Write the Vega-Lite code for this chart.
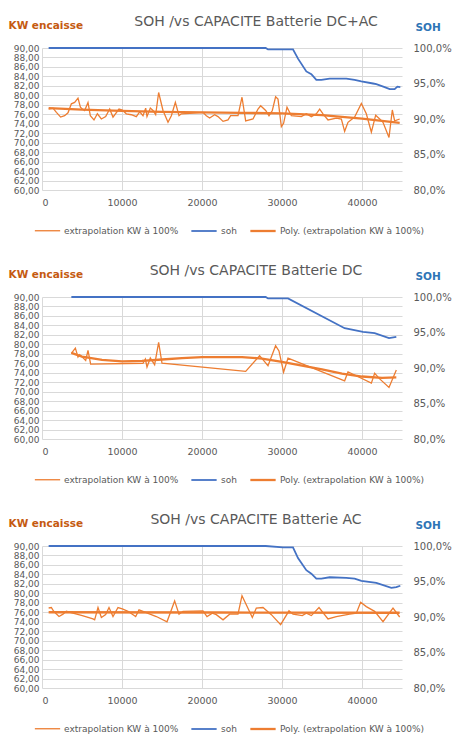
{
  "$schema": "https://vega.github.io/schema/vega-lite/v6.json",
  "padding": {"left": 8, "top": 15, "right": 0, "bottom": 0},
  "background": "white",
  "datasets": {
    "dcac": [
      {"s": "extrapolation KW à 100%", "n": 1, "km": 830, "v": 77.1},
      {"s": "extrapolation KW à 100%", "n": 2, "km": 1375, "v": 77.3},
      {"s": "extrapolation KW à 100%", "n": 3, "km": 1800, "v": 76.4},
      {"s": "extrapolation KW à 100%", "n": 4, "km": 2330, "v": 75.4},
      {"s": "extrapolation KW à 100%", "n": 5, "km": 2830, "v": 75.7},
      {"s": "extrapolation KW à 100%", "n": 6, "km": 3250, "v": 76.3},
      {"s": "extrapolation KW à 100%", "n": 7, "km": 3670, "v": 78.2},
      {"s": "extrapolation KW à 100%", "n": 8, "km": 4080, "v": 78.5},
      {"s": "extrapolation KW à 100%", "n": 9, "km": 4500, "v": 79.4},
      {"s": "extrapolation KW à 100%", "n": 10, "km": 4800, "v": 77.5},
      {"s": "extrapolation KW à 100%", "n": 11, "km": 5040, "v": 77.1},
      {"s": "extrapolation KW à 100%", "n": 12, "km": 5330, "v": 76.8},
      {"s": "extrapolation KW à 100%", "n": 13, "km": 5750, "v": 78.5},
      {"s": "extrapolation KW à 100%", "n": 14, "km": 6040, "v": 75.7},
      {"s": "extrapolation KW à 100%", "n": 15, "km": 6500, "v": 74.8},
      {"s": "extrapolation KW à 100%", "n": 16, "km": 6920, "v": 76.1},
      {"s": "extrapolation KW à 100%", "n": 17, "km": 7420, "v": 75.0},
      {"s": "extrapolation KW à 100%", "n": 18, "km": 7960, "v": 75.5},
      {"s": "extrapolation KW à 100%", "n": 19, "km": 8460, "v": 77.1},
      {"s": "extrapolation KW à 100%", "n": 20, "km": 8875, "v": 75.4},
      {"s": "extrapolation KW à 100%", "n": 21, "km": 9625, "v": 77.1},
      {"s": "extrapolation KW à 100%", "n": 22, "km": 10040, "v": 76.9},
      {"s": "extrapolation KW à 100%", "n": 23, "km": 10540, "v": 76.1},
      {"s": "extrapolation KW à 100%", "n": 24, "km": 11170, "v": 75.9},
      {"s": "extrapolation KW à 100%", "n": 25, "km": 11790, "v": 75.5},
      {"s": "extrapolation KW à 100%", "n": 26, "km": 12210, "v": 76.5},
      {"s": "extrapolation KW à 100%", "n": 27, "km": 12625, "v": 75.7},
      {"s": "extrapolation KW à 100%", "n": 28, "km": 12960, "v": 77.3},
      {"s": "extrapolation KW à 100%", "n": 29, "km": 13125, "v": 75.5},
      {"s": "extrapolation KW à 100%", "n": 30, "km": 13540, "v": 77.3},
      {"s": "extrapolation KW à 100%", "n": 31, "km": 13875, "v": 76.8},
      {"s": "extrapolation KW à 100%", "n": 32, "km": 14210, "v": 75.9},
      {"s": "extrapolation KW à 100%", "n": 33, "km": 14580, "v": 80.6},
      {"s": "extrapolation KW à 100%", "n": 34, "km": 15125, "v": 76.8},
      {"s": "extrapolation KW à 100%", "n": 35, "km": 15750, "v": 74.3},
      {"s": "extrapolation KW à 100%", "n": 36, "km": 16170, "v": 75.7},
      {"s": "extrapolation KW à 100%", "n": 37, "km": 16670, "v": 78.5},
      {"s": "extrapolation KW à 100%", "n": 38, "km": 17125, "v": 75.7},
      {"s": "extrapolation KW à 100%", "n": 39, "km": 17420, "v": 76.1},
      {"s": "extrapolation KW à 100%", "n": 40, "km": 18460, "v": 76.2},
      {"s": "extrapolation KW à 100%", "n": 41, "km": 20125, "v": 76.4},
      {"s": "extrapolation KW à 100%", "n": 42, "km": 20540, "v": 75.7},
      {"s": "extrapolation KW à 100%", "n": 43, "km": 20960, "v": 75.2},
      {"s": "extrapolation KW à 100%", "n": 44, "km": 21580, "v": 75.9},
      {"s": "extrapolation KW à 100%", "n": 45, "km": 22000, "v": 75.5},
      {"s": "extrapolation KW à 100%", "n": 46, "km": 22630, "v": 74.5},
      {"s": "extrapolation KW à 100%", "n": 47, "km": 23250, "v": 74.8},
      {"s": "extrapolation KW à 100%", "n": 48, "km": 23580, "v": 75.7},
      {"s": "extrapolation KW à 100%", "n": 49, "km": 24500, "v": 75.7},
      {"s": "extrapolation KW à 100%", "n": 50, "km": 25000, "v": 79.6},
      {"s": "extrapolation KW à 100%", "n": 51, "km": 25460, "v": 74.6},
      {"s": "extrapolation KW à 100%", "n": 52, "km": 26375, "v": 75.0},
      {"s": "extrapolation KW à 100%", "n": 53, "km": 27000, "v": 77.1},
      {"s": "extrapolation KW à 100%", "n": 54, "km": 27330, "v": 77.8},
      {"s": "extrapolation KW à 100%", "n": 55, "km": 27960, "v": 76.8},
      {"s": "extrapolation KW à 100%", "n": 56, "km": 28375, "v": 75.7},
      {"s": "extrapolation KW à 100%", "n": 57, "km": 28790, "v": 76.8},
      {"s": "extrapolation KW à 100%", "n": 58, "km": 29200, "v": 79.7},
      {"s": "extrapolation KW à 100%", "n": 59, "km": 29500, "v": 79.2},
      {"s": "extrapolation KW à 100%", "n": 60, "km": 29920, "v": 73.4},
      {"s": "extrapolation KW à 100%", "n": 61, "km": 30200, "v": 74.1},
      {"s": "extrapolation KW à 100%", "n": 62, "km": 30625, "v": 77.5},
      {"s": "extrapolation KW à 100%", "n": 63, "km": 31170, "v": 75.7},
      {"s": "extrapolation KW à 100%", "n": 64, "km": 32420, "v": 75.5},
      {"s": "extrapolation KW à 100%", "n": 65, "km": 33040, "v": 76.1},
      {"s": "extrapolation KW à 100%", "n": 66, "km": 33670, "v": 75.5},
      {"s": "extrapolation KW à 100%", "n": 67, "km": 34290, "v": 76.1},
      {"s": "extrapolation KW à 100%", "n": 68, "km": 34710, "v": 77.1},
      {"s": "extrapolation KW à 100%", "n": 69, "km": 35125, "v": 76.1},
      {"s": "extrapolation KW à 100%", "n": 70, "km": 35750, "v": 74.8},
      {"s": "extrapolation KW à 100%", "n": 71, "km": 36790, "v": 75.2},
      {"s": "extrapolation KW à 100%", "n": 72, "km": 37420, "v": 75.0},
      {"s": "extrapolation KW à 100%", "n": 73, "km": 37830, "v": 72.4},
      {"s": "extrapolation KW à 100%", "n": 74, "km": 38250, "v": 74.3},
      {"s": "extrapolation KW à 100%", "n": 75, "km": 39080, "v": 75.4},
      {"s": "extrapolation KW à 100%", "n": 76, "km": 39920, "v": 78.3},
      {"s": "extrapolation KW à 100%", "n": 77, "km": 40540, "v": 76.1},
      {"s": "extrapolation KW à 100%", "n": 78, "km": 41170, "v": 72.2},
      {"s": "extrapolation KW à 100%", "n": 79, "km": 41710, "v": 75.8},
      {"s": "extrapolation KW à 100%", "n": 80, "km": 42210, "v": 75.0},
      {"s": "extrapolation KW à 100%", "n": 81, "km": 42625, "v": 74.3},
      {"s": "extrapolation KW à 100%", "n": 82, "km": 43375, "v": 71.1},
      {"s": "extrapolation KW à 100%", "n": 83, "km": 43790, "v": 76.9},
      {"s": "extrapolation KW à 100%", "n": 84, "km": 44080, "v": 74.6},
      {"s": "extrapolation KW à 100%", "n": 85, "km": 44710, "v": 75.0},
      {"s": "Poly. (extrapolation KW à 100%)", "n": 1, "km": 830, "v": 77.3},
      {"s": "Poly. (extrapolation KW à 100%)", "n": 2, "km": 5000, "v": 77.0},
      {"s": "Poly. (extrapolation KW à 100%)", "n": 3, "km": 10000, "v": 76.7},
      {"s": "Poly. (extrapolation KW à 100%)", "n": 4, "km": 15000, "v": 76.5},
      {"s": "Poly. (extrapolation KW à 100%)", "n": 5, "km": 20000, "v": 76.4},
      {"s": "Poly. (extrapolation KW à 100%)", "n": 6, "km": 25000, "v": 76.3},
      {"s": "Poly. (extrapolation KW à 100%)", "n": 7, "km": 30000, "v": 76.2},
      {"s": "Poly. (extrapolation KW à 100%)", "n": 8, "km": 35000, "v": 75.8},
      {"s": "Poly. (extrapolation KW à 100%)", "n": 9, "km": 40000, "v": 75.1},
      {"s": "Poly. (extrapolation KW à 100%)", "n": 10, "km": 44710, "v": 74.2},
      {"s": "soh", "n": 1, "km": 830, "v": 1.0},
      {"s": "soh", "n": 2, "km": 27960, "v": 1.0},
      {"s": "soh", "n": 3, "km": 28250, "v": 0.998},
      {"s": "soh", "n": 4, "km": 31375, "v": 0.998},
      {"s": "soh", "n": 5, "km": 32000, "v": 0.985},
      {"s": "soh", "n": 6, "km": 33040, "v": 0.967},
      {"s": "soh", "n": 7, "km": 33670, "v": 0.963},
      {"s": "soh", "n": 8, "km": 34290, "v": 0.955},
      {"s": "soh", "n": 9, "km": 34920, "v": 0.955},
      {"s": "soh", "n": 10, "km": 35960, "v": 0.957},
      {"s": "soh", "n": 11, "km": 38040, "v": 0.957},
      {"s": "soh", "n": 12, "km": 39080, "v": 0.955},
      {"s": "soh", "n": 13, "km": 39920, "v": 0.953},
      {"s": "soh", "n": 14, "km": 41380, "v": 0.95},
      {"s": "soh", "n": 15, "km": 41790, "v": 0.949},
      {"s": "soh", "n": 16, "km": 42830, "v": 0.945},
      {"s": "soh", "n": 17, "km": 43460, "v": 0.942},
      {"s": "soh", "n": 18, "km": 44080, "v": 0.942},
      {"s": "soh", "n": 19, "km": 44420, "v": 0.9455},
      {"s": "soh", "n": 20, "km": 44790, "v": 0.945}
    ],
    "dc": [
      {"s": "extrapolation KW à 100%", "n": 1, "km": 3670, "v": 78.1},
      {"s": "extrapolation KW à 100%", "n": 2, "km": 4170, "v": 79.2},
      {"s": "extrapolation KW à 100%", "n": 3, "km": 4500, "v": 77.3},
      {"s": "extrapolation KW à 100%", "n": 4, "km": 4710, "v": 77.8},
      {"s": "extrapolation KW à 100%", "n": 5, "km": 5040, "v": 77.3},
      {"s": "extrapolation KW à 100%", "n": 6, "km": 5460, "v": 76.6},
      {"s": "extrapolation KW à 100%", "n": 7, "km": 5750, "v": 78.7},
      {"s": "extrapolation KW à 100%", "n": 8, "km": 6080, "v": 75.8},
      {"s": "extrapolation KW à 100%", "n": 9, "km": 12625, "v": 76.0},
      {"s": "extrapolation KW à 100%", "n": 10, "km": 12920, "v": 76.9},
      {"s": "extrapolation KW à 100%", "n": 11, "km": 13125, "v": 75.2},
      {"s": "extrapolation KW à 100%", "n": 12, "km": 13540, "v": 77.1},
      {"s": "extrapolation KW à 100%", "n": 13, "km": 14080, "v": 75.7},
      {"s": "extrapolation KW à 100%", "n": 14, "km": 14580, "v": 80.4},
      {"s": "extrapolation KW à 100%", "n": 15, "km": 15000, "v": 76.0},
      {"s": "extrapolation KW à 100%", "n": 16, "km": 25460, "v": 74.3},
      {"s": "extrapolation KW à 100%", "n": 17, "km": 27200, "v": 77.6},
      {"s": "extrapolation KW à 100%", "n": 18, "km": 28250, "v": 75.5},
      {"s": "extrapolation KW à 100%", "n": 19, "km": 29200, "v": 79.7},
      {"s": "extrapolation KW à 100%", "n": 20, "km": 29620, "v": 78.6},
      {"s": "extrapolation KW à 100%", "n": 21, "km": 30200, "v": 74.1},
      {"s": "extrapolation KW à 100%", "n": 22, "km": 30750, "v": 77.1},
      {"s": "extrapolation KW à 100%", "n": 23, "km": 37830, "v": 72.3},
      {"s": "extrapolation KW à 100%", "n": 24, "km": 38250, "v": 74.2},
      {"s": "extrapolation KW à 100%", "n": 25, "km": 41170, "v": 71.8},
      {"s": "extrapolation KW à 100%", "n": 26, "km": 41580, "v": 73.9},
      {"s": "extrapolation KW à 100%", "n": 27, "km": 42210, "v": 72.7},
      {"s": "extrapolation KW à 100%", "n": 28, "km": 43375, "v": 70.9},
      {"s": "extrapolation KW à 100%", "n": 29, "km": 44290, "v": 74.6},
      {"s": "Poly. (extrapolation KW à 100%)", "n": 1, "km": 3670, "v": 78.2},
      {"s": "Poly. (extrapolation KW à 100%)", "n": 2, "km": 5000, "v": 77.4},
      {"s": "Poly. (extrapolation KW à 100%)", "n": 3, "km": 7500, "v": 76.7},
      {"s": "Poly. (extrapolation KW à 100%)", "n": 4, "km": 10000, "v": 76.4},
      {"s": "Poly. (extrapolation KW à 100%)", "n": 5, "km": 12500, "v": 76.5},
      {"s": "Poly. (extrapolation KW à 100%)", "n": 6, "km": 15000, "v": 76.8},
      {"s": "Poly. (extrapolation KW à 100%)", "n": 7, "km": 17500, "v": 77.1},
      {"s": "Poly. (extrapolation KW à 100%)", "n": 8, "km": 20000, "v": 77.3},
      {"s": "Poly. (extrapolation KW à 100%)", "n": 9, "km": 25000, "v": 77.3},
      {"s": "Poly. (extrapolation KW à 100%)", "n": 10, "km": 27500, "v": 77.0},
      {"s": "Poly. (extrapolation KW à 100%)", "n": 11, "km": 30000, "v": 76.3},
      {"s": "Poly. (extrapolation KW à 100%)", "n": 12, "km": 32500, "v": 75.5},
      {"s": "Poly. (extrapolation KW à 100%)", "n": 13, "km": 35000, "v": 74.7},
      {"s": "Poly. (extrapolation KW à 100%)", "n": 14, "km": 37500, "v": 73.8},
      {"s": "Poly. (extrapolation KW à 100%)", "n": 15, "km": 40000, "v": 73.2},
      {"s": "Poly. (extrapolation KW à 100%)", "n": 16, "km": 42500, "v": 72.9},
      {"s": "Poly. (extrapolation KW à 100%)", "n": 17, "km": 44290, "v": 73.0},
      {"s": "soh", "n": 1, "km": 3670, "v": 1.0},
      {"s": "soh", "n": 2, "km": 27960, "v": 1.0},
      {"s": "soh", "n": 3, "km": 28250, "v": 0.998},
      {"s": "soh", "n": 4, "km": 30750, "v": 0.998},
      {"s": "soh", "n": 5, "km": 37830, "v": 0.956},
      {"s": "soh", "n": 6, "km": 40125, "v": 0.951},
      {"s": "soh", "n": 7, "km": 41580, "v": 0.949},
      {"s": "soh", "n": 8, "km": 43375, "v": 0.942},
      {"s": "soh", "n": 9, "km": 44290, "v": 0.944}
    ],
    "ac": [
      {"s": "extrapolation KW à 100%", "n": 1, "km": 830, "v": 76.9},
      {"s": "extrapolation KW à 100%", "n": 2, "km": 1170, "v": 77.0},
      {"s": "extrapolation KW à 100%", "n": 3, "km": 1460, "v": 76.2},
      {"s": "extrapolation KW à 100%", "n": 4, "km": 2125, "v": 75.1},
      {"s": "extrapolation KW à 100%", "n": 5, "km": 2625, "v": 75.6},
      {"s": "extrapolation KW à 100%", "n": 6, "km": 3040, "v": 76.2},
      {"s": "extrapolation KW à 100%", "n": 7, "km": 5040, "v": 75.3},
      {"s": "extrapolation KW à 100%", "n": 8, "km": 6375, "v": 74.6},
      {"s": "extrapolation KW à 100%", "n": 9, "km": 6580, "v": 74.4},
      {"s": "extrapolation KW à 100%", "n": 10, "km": 7000, "v": 77.0},
      {"s": "extrapolation KW à 100%", "n": 11, "km": 7420, "v": 74.9},
      {"s": "extrapolation KW à 100%", "n": 12, "km": 7960, "v": 75.5},
      {"s": "extrapolation KW à 100%", "n": 13, "km": 8375, "v": 77.0},
      {"s": "extrapolation KW à 100%", "n": 14, "km": 8875, "v": 75.1},
      {"s": "extrapolation KW à 100%", "n": 15, "km": 9500, "v": 77.0},
      {"s": "extrapolation KW à 100%", "n": 16, "km": 10040, "v": 76.7},
      {"s": "extrapolation KW à 100%", "n": 17, "km": 10750, "v": 76.2},
      {"s": "extrapolation KW à 100%", "n": 18, "km": 11710, "v": 75.1},
      {"s": "extrapolation KW à 100%", "n": 19, "km": 12125, "v": 76.5},
      {"s": "extrapolation KW à 100%", "n": 20, "km": 12625, "v": 76.2},
      {"s": "extrapolation KW à 100%", "n": 21, "km": 14290, "v": 75.1},
      {"s": "extrapolation KW à 100%", "n": 22, "km": 15625, "v": 74.0},
      {"s": "extrapolation KW à 100%", "n": 23, "km": 16580, "v": 78.4},
      {"s": "extrapolation KW à 100%", "n": 24, "km": 17125, "v": 75.6},
      {"s": "extrapolation KW à 100%", "n": 25, "km": 17625, "v": 76.2},
      {"s": "extrapolation KW à 100%", "n": 26, "km": 20125, "v": 76.3},
      {"s": "extrapolation KW à 100%", "n": 27, "km": 20625, "v": 75.1},
      {"s": "extrapolation KW à 100%", "n": 28, "km": 21290, "v": 75.8},
      {"s": "extrapolation KW à 100%", "n": 29, "km": 21790, "v": 75.5},
      {"s": "extrapolation KW à 100%", "n": 30, "km": 22630, "v": 74.4},
      {"s": "extrapolation KW à 100%", "n": 31, "km": 23460, "v": 75.6},
      {"s": "extrapolation KW à 100%", "n": 32, "km": 24500, "v": 75.6},
      {"s": "extrapolation KW à 100%", "n": 33, "km": 25000, "v": 79.5},
      {"s": "extrapolation KW à 100%", "n": 34, "km": 26290, "v": 74.9},
      {"s": "extrapolation KW à 100%", "n": 35, "km": 26790, "v": 76.9},
      {"s": "extrapolation KW à 100%", "n": 36, "km": 27625, "v": 77.0},
      {"s": "extrapolation KW à 100%", "n": 37, "km": 28670, "v": 75.5},
      {"s": "extrapolation KW à 100%", "n": 38, "km": 29830, "v": 73.4},
      {"s": "extrapolation KW à 100%", "n": 39, "km": 30875, "v": 76.3},
      {"s": "extrapolation KW à 100%", "n": 40, "km": 31375, "v": 75.6},
      {"s": "extrapolation KW à 100%", "n": 41, "km": 32540, "v": 75.3},
      {"s": "extrapolation KW à 100%", "n": 42, "km": 33040, "v": 75.8},
      {"s": "extrapolation KW à 100%", "n": 43, "km": 33670, "v": 75.3},
      {"s": "extrapolation KW à 100%", "n": 44, "km": 34625, "v": 77.0},
      {"s": "extrapolation KW à 100%", "n": 45, "km": 35750, "v": 74.6},
      {"s": "extrapolation KW à 100%", "n": 46, "km": 36790, "v": 75.1},
      {"s": "extrapolation KW à 100%", "n": 47, "km": 38460, "v": 75.6},
      {"s": "extrapolation KW à 100%", "n": 48, "km": 39290, "v": 75.8},
      {"s": "extrapolation KW à 100%", "n": 49, "km": 39830, "v": 78.1},
      {"s": "extrapolation KW à 100%", "n": 50, "km": 40540, "v": 77.2},
      {"s": "extrapolation KW à 100%", "n": 51, "km": 41580, "v": 76.2},
      {"s": "extrapolation KW à 100%", "n": 52, "km": 42625, "v": 74.0},
      {"s": "extrapolation KW à 100%", "n": 53, "km": 43875, "v": 76.9},
      {"s": "extrapolation KW à 100%", "n": 54, "km": 44710, "v": 75.0},
      {"s": "Poly. (extrapolation KW à 100%)", "n": 1, "km": 830, "v": 76.0},
      {"s": "Poly. (extrapolation KW à 100%)", "n": 2, "km": 22000, "v": 75.95},
      {"s": "Poly. (extrapolation KW à 100%)", "n": 3, "km": 44710, "v": 75.9},
      {"s": "soh", "n": 1, "km": 830, "v": 1.0},
      {"s": "soh", "n": 2, "km": 27960, "v": 1.0},
      {"s": "soh", "n": 3, "km": 30125, "v": 0.998},
      {"s": "soh", "n": 4, "km": 31375, "v": 0.998},
      {"s": "soh", "n": 5, "km": 32000, "v": 0.983},
      {"s": "soh", "n": 6, "km": 33040, "v": 0.966},
      {"s": "soh", "n": 7, "km": 33670, "v": 0.961},
      {"s": "soh", "n": 8, "km": 34290, "v": 0.954},
      {"s": "soh", "n": 9, "km": 34920, "v": 0.954},
      {"s": "soh", "n": 10, "km": 35960, "v": 0.956},
      {"s": "soh", "n": 11, "km": 38040, "v": 0.955},
      {"s": "soh", "n": 12, "km": 39080, "v": 0.954},
      {"s": "soh", "n": 13, "km": 39920, "v": 0.951},
      {"s": "soh", "n": 14, "km": 41790, "v": 0.948},
      {"s": "soh", "n": 15, "km": 43670, "v": 0.941},
      {"s": "soh", "n": 16, "km": 44290, "v": 0.942},
      {"s": "soh", "n": 17, "km": 44790, "v": 0.944}
    ]
  },
  "vconcat": [
    {
      "title": "SOH /vs CAPACITE Batterie DC+AC",
      "width": 360,
      "height": 142,
      "data": {"name": "dcac"},
      "layer": [
        {
          "transform": [{"filter": "datum.s != 'soh'"}],
          "mark": {"type": "line", "interpolate": "linear"},
          "encoding": {
            "x": {"field": "km", "type": "quantitative", "scale": {"domain": [0, 45000], "nice": false},
                  "axis": {"title": null, "values": [0, 5000, 10000, 15000, 20000, 25000, 30000, 35000, 40000, 45000], "format": "d"}},
            "y": {"field": "v", "type": "quantitative", "scale": {"domain": [60, 90], "nice": false, "zero": false},
                  "axis": {"title": "KW encaisse", "orient": "left", "titleX": -34, "titleY": -20, "titleColor": "#C55A11",
                           "values": [60, 62, 64, 66, 68, 70, 72, 74, 76, 78, 80, 82, 84, 86, 88, 90], "format": ".2f"}},
            "color": {"field": "s", "type": "nominal", "scale": {"domain": ["extrapolation KW à 100%", "soh", "Poly. (extrapolation KW à 100%)"], "range": ["#ED7D31", "#4472C4", "#ED7D31"]}, "legend": {"title": null}},
            "strokeWidth": {"field": "s", "type": "nominal", "scale": {"domain": ["extrapolation KW à 100%", "soh", "Poly. (extrapolation KW à 100%)"], "range": [1.3, 2.3, 2.3]}, "legend": {"title": null}},
            "order": {"field": "n", "type": "quantitative"}
          }
        },
        {
          "transform": [{"filter": "datum.s == 'soh'"}],
          "mark": {"type": "line"},
          "encoding": {
            "x": {"field": "km", "type": "quantitative"},
            "y": {"field": "v", "type": "quantitative", "scale": {"domain": [0.8, 1.0], "nice": false, "zero": false},
                  "axis": {"title": "SOH", "orient": "right", "titleX": 13, "titleY": -18, "titleColor": "#2E75B6", "grid": false, "labelPadding": 11,
                           "values": [0.8, 0.85, 0.9, 0.95, 1.0], "format": ".1%"}},
            "color": {"field": "s", "type": "nominal", "legend": {"title": null}},
            "strokeWidth": {"field": "s", "type": "nominal", "legend": {"title": null}},
            "order": {"field": "n", "type": "quantitative"}
          }
        }
      ],
      "resolve": {"scale": {"y": "independent"}}
    },
    {
      "title": "SOH /vs CAPACITE Batterie DC",
      "width": 360,
      "height": 142,
      "data": {"name": "dc"},
      "layer": [
        {
          "transform": [{"filter": "datum.s != 'soh'"}],
          "mark": {"type": "line", "interpolate": "linear"},
          "encoding": {
            "x": {"field": "km", "type": "quantitative", "scale": {"domain": [0, 45000], "nice": false},
                  "axis": {"title": null, "values": [0, 5000, 10000, 15000, 20000, 25000, 30000, 35000, 40000, 45000], "format": "d"}},
            "y": {"field": "v", "type": "quantitative", "scale": {"domain": [60, 90], "nice": false, "zero": false},
                  "axis": {"title": "KW encaisse", "orient": "left", "titleX": -34, "titleY": -20, "titleColor": "#C55A11",
                           "values": [60, 62, 64, 66, 68, 70, 72, 74, 76, 78, 80, 82, 84, 86, 88, 90], "format": ".2f"}},
            "color": {"field": "s", "type": "nominal", "scale": {"domain": ["extrapolation KW à 100%", "soh", "Poly. (extrapolation KW à 100%)"], "range": ["#ED7D31", "#4472C4", "#ED7D31"]}, "legend": {"title": null}},
            "strokeWidth": {"field": "s", "type": "nominal", "scale": {"domain": ["extrapolation KW à 100%", "soh", "Poly. (extrapolation KW à 100%)"], "range": [1.3, 2.3, 2.3]}, "legend": {"title": null}},
            "order": {"field": "n", "type": "quantitative"}
          }
        },
        {
          "transform": [{"filter": "datum.s == 'soh'"}],
          "mark": {"type": "line"},
          "encoding": {
            "x": {"field": "km", "type": "quantitative"},
            "y": {"field": "v", "type": "quantitative", "scale": {"domain": [0.8, 1.0], "nice": false, "zero": false},
                  "axis": {"title": "SOH", "orient": "right", "titleX": 13, "titleY": -18, "titleColor": "#2E75B6", "grid": false, "labelPadding": 11,
                           "values": [0.8, 0.85, 0.9, 0.95, 1.0], "format": ".1%"}},
            "color": {"field": "s", "type": "nominal", "legend": {"title": null}},
            "strokeWidth": {"field": "s", "type": "nominal", "legend": {"title": null}},
            "order": {"field": "n", "type": "quantitative"}
          }
        }
      ],
      "resolve": {"scale": {"y": "independent"}}
    },
    {
      "title": "SOH /vs CAPACITE Batterie AC",
      "width": 360,
      "height": 142,
      "data": {"name": "ac"},
      "layer": [
        {
          "transform": [{"filter": "datum.s != 'soh'"}],
          "mark": {"type": "line", "interpolate": "linear"},
          "encoding": {
            "x": {"field": "km", "type": "quantitative", "scale": {"domain": [0, 45000], "nice": false},
                  "axis": {"title": null, "values": [0, 5000, 10000, 15000, 20000, 25000, 30000, 35000, 40000, 45000], "format": "d"}},
            "y": {"field": "v", "type": "quantitative", "scale": {"domain": [60, 90], "nice": false, "zero": false},
                  "axis": {"title": "KW encaisse", "orient": "left", "titleX": -34, "titleY": -20, "titleColor": "#C55A11",
                           "values": [60, 62, 64, 66, 68, 70, 72, 74, 76, 78, 80, 82, 84, 86, 88, 90], "format": ".2f"}},
            "color": {"field": "s", "type": "nominal", "scale": {"domain": ["extrapolation KW à 100%", "soh", "Poly. (extrapolation KW à 100%)"], "range": ["#ED7D31", "#4472C4", "#ED7D31"]}, "legend": {"title": null}},
            "strokeWidth": {"field": "s", "type": "nominal", "scale": {"domain": ["extrapolation KW à 100%", "soh", "Poly. (extrapolation KW à 100%)"], "range": [1.3, 2.3, 2.3]}, "legend": {"title": null}},
            "order": {"field": "n", "type": "quantitative"}
          }
        },
        {
          "transform": [{"filter": "datum.s == 'soh'"}],
          "mark": {"type": "line"},
          "encoding": {
            "x": {"field": "km", "type": "quantitative"},
            "y": {"field": "v", "type": "quantitative", "scale": {"domain": [0.8, 1.0], "nice": false, "zero": false},
                  "axis": {"title": "SOH", "orient": "right", "titleX": 13, "titleY": -18, "titleColor": "#2E75B6", "grid": false, "labelPadding": 11,
                           "values": [0.8, 0.85, 0.9, 0.95, 1.0], "format": ".1%"}},
            "color": {"field": "s", "type": "nominal", "legend": {"title": null}},
            "strokeWidth": {"field": "s", "type": "nominal", "legend": {"title": null}},
            "order": {"field": "n", "type": "quantitative"}
          }
        }
      ],
      "resolve": {"scale": {"y": "independent"}}
    }
  ],
  "spacing": 107,
  "bounds": "flush",
  "resolve": {
    "scale": {"color": "independent", "strokeWidth": "independent"},
    "legend": {"color": "independent", "strokeWidth": "independent"}
  },
  "config": {
    "font": "DejaVu Sans",
    "view": {"stroke": null},
    "locale": {"number": {"decimal": ",", "thousands": "\u00a0", "grouping": [3], "currency": ["", "\u00a0€"]}},
    "axis": {
      "domain": false,
      "ticks": false,
      "grid": true,
      "gridColor": "#D9D9D9",
      "gridWidth": 1,
      "labelColor": "#595959",
      "labelFont": "DejaVu Sans",
      "labelFontSize": 10,
      "labelOverlap": false,
      "labelPadding": 3,
      "titleAngle": 0,
      "titleAlign": "left",
      "titleBaseline": "alphabetic",
      "titleFont": "DejaVu Sans",
      "titleFontSize": 10.5,
      "titleFontWeight": "bold"
    },
    "axisLeft": {"labelFontSize": 9},
    "axisX": {"labelPadding": 7, "labelFontSize": 9.5},
    "legend": {
      "orient": "none",
      "legendX": -8,
      "legendY": 169,
      "direction": "horizontal",
      "symbolType": "stroke",
      "symbolSize": 640,
      "labelFont": "DejaVu Sans",
      "labelFontSize": 9,
      "labelColor": "#595959",
      "labelOffset": 3,
      "columnPadding": 8,
      "padding": 0
    },
    "title": {
      "font": "DejaVu Sans",
      "fontSize": 14,
      "fontWeight": "normal",
      "color": "#595959",
      "anchor": "middle",
      "dx": 34,
      "dy": 13,
      "offset": 4
    }
  }
}
